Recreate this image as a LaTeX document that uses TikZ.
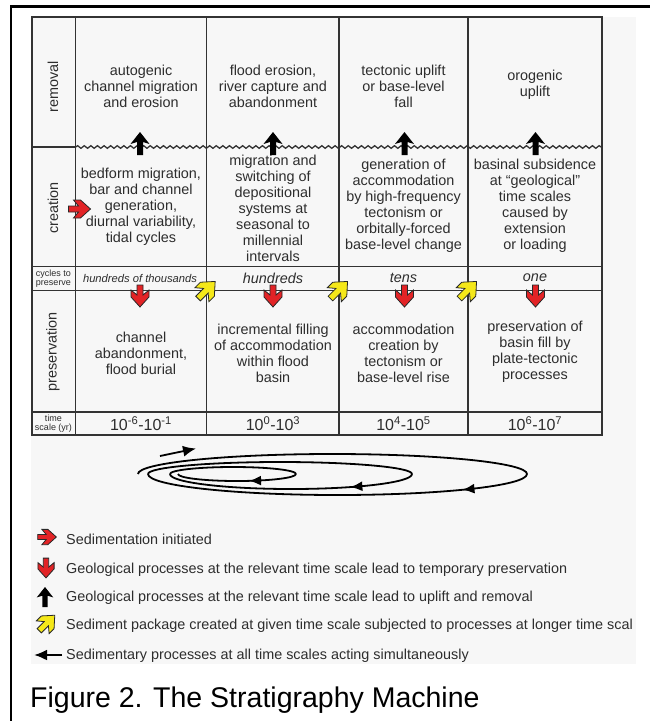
\documentclass[tikz,border=0pt]{standalone}
\usepackage{fontspec}
\setmainfont{Liberation Sans}
\usetikzlibrary{arrows.meta, decorations.pathmorphing, decorations.markings}
\definecolor{panelgray}{RGB}{247,247,247}
\definecolor{linegray}{RGB}{51,51,51}
\definecolor{txtgray}{RGB}{45,45,45}
\definecolor{arrowred}{RGB}{226,35,38}
\definecolor{arrowyellow}{RGB}{245,232,25}
\definecolor{edgegray}{RGB}{40,40,40}
\newcommand\cellfont{\fontsize{14.4}{16}\selectfont}
\newcommand\labfont{\fontsize{9}{9.2}\selectfont}
\newcommand\timefont{\fontsize{16}{18}\selectfont}
\newcommand\titlefont{\fontsize{28.5}{32}\selectfont}
\tikzset{
  pics/chevron/.style={code={
    \filldraw[fill=#1, draw=edgegray, line width=0.8pt]
      (-11,-3) -- (-1,-3) -- (-6,-9) -- (1,-9) -- (11,0) -- (1,9) -- (-6,9) -- (-1,3) -- (-11,3) -- cycle;}},
  pics/blackarrow/.style={code={
    \fill[black]
      (-11.5,-3) -- (1.5,-3) -- (-0.5,-9.5) -- (11.5,0) -- (-0.5,9.5) -- (1.5,3) -- (-11.5,3) -- cycle;}}
}

\begin{document}
\begin{tikzpicture}[x=1pt, y=-1pt,
  grid/.style={draw=linegray, line width=1.3pt},
  cell/.style={align=center, text=txtgray, font=\cellfont, inner sep=0pt},
  side/.style={rotate=90, text=txtgray, font=\cellfont, inner sep=0pt},
  labtext/.style={align=center, text=txtgray, font=\labfont, inner sep=0pt},
  cyctext/.style={text=txtgray, font=\cellfont\itshape, inner sep=0pt},
  timetext/.style={text=txtgray, font=\timefont, inner sep=0pt},
  legtext/.style={anchor=base west, text=txtgray, font=\cellfont, inner sep=0pt},
  spiral/.style={black, line width=1.8pt},
  spiralhead/.style={postaction={decorate}, decoration={markings,
    mark=at position #1 with {\arrow{Latex[length=12pt,width=10pt]}}}}]
  \useasboundingbox (0,0) rectangle (650,721);
  \clip (0,0) rectangle (650,721);
  % frame and panel
  \draw[black, line width=2.6pt] (11,740) -- (11,6.5) -- (670,6.5);
  \fill[panelgray] (31,17) rectangle (636,664);
  % table grid
  \draw[grid] (32,17) rectangle (602,435);
  \foreach \x in {75.6,206.6,339,468} \draw[grid] (\x,17) -- (\x,435);
  \foreach \y in {266.7,290.5,412} \draw[grid] (32,\y) -- (602,\y);
  \draw[grid] (32,147) -- (75.6,147);
  \draw[grid, decorate, decoration={snake, segment length=6.6pt, amplitude=1.3pt}] (75.6,147) -- (602,147);
  % row labels
  \node[side] (lremoval) at (53,87) {removal};
  \node[side] (lcreation) at (53,208) {creation};
  \node[labtext] (lcycles) at (53.5,278.5) {cycles to\\preserve};
  \node[side] (lpreserv) at (53,352) {preservation};
  \node[labtext] (ltime) at (53.5,424) {time\\scale (yr)};
  % removal
  \node[cell] (rem1) at (141,86) {autogenic\\channel migration\\and erosion};
  \node[cell] (rem2) at (273,86) {flood erosion,\\river capture and\\abandonment};
  \node[cell] (rem3) at (403.5,86) {tectonic uplift\\or base-level\\fall};
  \node[cell] (rem4) at (535,85) {orogenic\\uplift};
  % creation
  \node[cell] (cre1) at (141,207) {bedform migration,\\bar and channel\\generation,\\diurnal variability,\\tidal cycles};
  \node[cell] (cre2) at (273,208) {migration and\\switching of\\depositional\\systems at\\seasonal to\\millennial\\intervals};
  \node[cell] (cre3) at (403.5,206) {generation of\\accommodation\\by high-frequency\\tectonism or\\orbitally-forced\\base-level change};
  \node[cell] (cre4) at (535,206) {basinal subsidence\\at “geological”\\time scales\\caused by\\extension\\or loading};
  % cycles to preserve
  \node[cyctext, font=\fontsize{11.2}{13}\selectfont\itshape] (cyc1) at (140,278) {hundreds of thousands};
  \node[cyctext] (cyc2) at (273,278) {hundreds};
  \node[cyctext] (cyc3) at (403.5,278) {tens};
  \node[cyctext] (cyc4) at (535,278) {one};
  % preservation
  \node[cell] (pres1) at (141,353) {channel\\abandonment,\\flood burial};
  \node[cell] (pres2) at (273,353) {incremental filling\\of accommodation\\within  flood\\basin};
  \node[cell] (pres3) at (403.5,353) {accommodation\\creation by\\tectonism or\\base-level rise};
  \node[cell] (pres4) at (535,352) {preservation of\\basin fill by\\plate-tectonic\\processes};
  % time scale
  \node[timetext] (ts1) at (141,423.5) {10\textsuperscript{-6}-10\textsuperscript{-1}};
  \node[timetext] (ts2) at (273,423.5) {10\textsuperscript{0}-10\textsuperscript{3}};
  \node[timetext] (ts3) at (403.5,423.5) {10\textsuperscript{4}-10\textsuperscript{5}};
  \node[timetext] (ts4) at (535,423.5) {10\textsuperscript{6}-10\textsuperscript{7}};
  % arrows in the table
  \foreach \x in {140,273,404.5,535.5} {
    \pic[rotate=90] at (\x,143.5) {blackarrow};
    \pic[rotate=-90] at (\x,296) {chevron=arrowred};
  }
  \foreach \x in {206.6,339,468} \pic[rotate=45, scale=1.1] at (\x,290) {chevron=arrowyellow};
  \pic at (79.5,209) {chevron=arrowred};
  % spiral
  \draw[spiral] (138,474) arc[start angle=180, end angle=360, x radius=194.5, y radius=20];
  \draw[spiral, spiralhead=0.176] (527,474) arc[start angle=0, end angle=180, x radius=189.5, y radius=21];
  \draw[spiral] (148,474) arc[start angle=180, end angle=360, x radius=132, y radius=12];
  \draw[spiral, spiralhead=0.26] (412,474) arc[start angle=0, end angle=180, x radius=121, y radius=15];
  \draw[spiral] (170,474) arc[start angle=180, end angle=360, x radius=63, y radius=7];
  \draw[spiral, spiralhead=0.4] (296,474) arc[start angle=0, end angle=180, x radius=59, y radius=7];
  \coordinate (sstart) at (160,456);
  \coordinate (send) at (196,448.5);
  \draw[spiral, -{Latex[length=13pt,width=11pt]}] (sstart) -- (send);
  % legend
  \pic[scale=0.85] at (47,537) {chevron=arrowred};
  \pic[rotate=-90, scale=0.9] at (46,568) {chevron=arrowred};
  \pic[rotate=90, scale=0.87] at (45,597) {blackarrow};
  \pic[rotate=45] at (47,623) {chevron=arrowyellow};
  \coordinate (lgfrom) at (62,655);
  \coordinate (lgto) at (34,655);
  \draw[black, line width=2.2pt, -{Latex[length=13pt,width=11pt]}] (lgfrom) -- (lgto);
  \begin{scope}
    \clip (31,17) rectangle (636,664);
    \node[legtext] (leg1) at (66,544) {Sedimentation initiated};
    \node[legtext] (leg2) at (66,573) {Geological processes at the relevant time scale lead to temporary preservation};
    \node[legtext] (leg3) at (66,601) {Geological processes at the relevant time scale lead to uplift and removal};
    \node[legtext] (leg4) at (66,629) {Sediment package created at given time scale subjected to processes at longer time scal};
    \node[legtext] (leg5) at (66,659) {Sedimentary processes at all time scales acting simultaneously};
  \end{scope}
  \node[anchor=base west, font=\titlefont, inner sep=0pt] (title) at (30,707) {Figure 2. The Stratigraphy Machine};
\end{tikzpicture}
\end{document}
